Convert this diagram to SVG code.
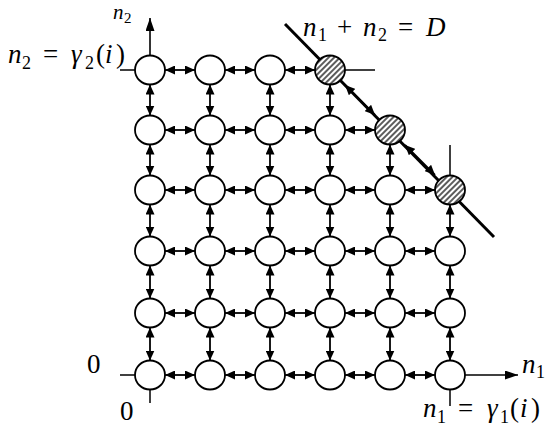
<svg xmlns="http://www.w3.org/2000/svg" width="549" height="432" viewBox="0 0 549 432">
<style>
.n{fill:#fff;stroke:#000;stroke-width:1.8}
.h{fill:url(#hatch);stroke:#000;stroke-width:1.8}
.a{stroke:#000;stroke-width:1.8;fill:none;marker-start:url(#ah);marker-end:url(#ah)}
.s{stroke:#000;stroke-width:1.5;fill:none}
.ax{stroke:#000;stroke-width:1.6;fill:none;marker-end:url(#big)}
text{font-family:"Liberation Serif","Times New Roman",serif;font-size:27px;fill:#000}
.it{font-style:italic}
.sb{font-size:18px}
.sm{font-size:21px}
.sm2{font-size:15px}
</style>
<defs>
<pattern id="hatch" patternUnits="userSpaceOnUse" width="4" height="4" patternTransform="rotate(45)">
<rect width="4" height="4" fill="#fff"/>
<line x1="1" y1="0" x2="1" y2="4" stroke="#333" stroke-width="1.6"/>
</pattern>
<marker id="ah" viewBox="0 0 10 10" refX="10" refY="5" markerWidth="10" markerHeight="9" markerUnits="userSpaceOnUse" orient="auto-start-reverse" preserveAspectRatio="none">
<path d="M0,0 L10,5 L0,10 z" fill="#000"/>
</marker>
<marker id="big" viewBox="0 0 10 10" refX="10" refY="5" markerWidth="13" markerHeight="9" markerUnits="userSpaceOnUse" orient="auto" preserveAspectRatio="none">
<path d="M0,0 L10,5 L0,10 z" fill="#000"/>
</marker>
</defs>

<g id="connectors">
<line x1="285" y1="24" x2="494" y2="237" stroke="#000" stroke-width="3"/>
<line class="ax" x1="150" y1="55" x2="150" y2="18"/>
<line class="ax" x1="465" y1="375" x2="518" y2="375"/>
<line class="s" x1="120" y1="70" x2="135" y2="70"/>
<line class="s" x1="120" y1="375" x2="135" y2="375"/>
<line class="s" x1="150" y1="390" x2="150" y2="403"/>
<line class="s" x1="345" y1="70" x2="375" y2="70"/>
<line class="s" x1="450" y1="145" x2="450" y2="175.5"/>
<line class="s" x1="450" y1="390" x2="450" y2="406"/>
<line class="a" x1="345" y1="85" x2="375" y2="115"/>
<line class="a" x1="405" y1="145" x2="435" y2="175"/>
<line class="a" x1="165" y1="70" x2="195" y2="70"/>
<line class="a" x1="225" y1="70" x2="255" y2="70"/>
<line class="a" x1="285" y1="70" x2="315" y2="70"/>
<line class="a" x1="165" y1="130" x2="195" y2="130"/>
<line class="a" x1="225" y1="130" x2="255" y2="130"/>
<line class="a" x1="285" y1="130" x2="315" y2="130"/>
<line class="a" x1="345" y1="130" x2="375" y2="130"/>
<line class="a" x1="165" y1="190" x2="195" y2="190"/>
<line class="a" x1="225" y1="190" x2="255" y2="190"/>
<line class="a" x1="285" y1="190" x2="315" y2="190"/>
<line class="a" x1="345" y1="190" x2="375" y2="190"/>
<line class="a" x1="405" y1="190" x2="435" y2="190"/>
<line class="a" x1="165" y1="251" x2="195" y2="251"/>
<line class="a" x1="225" y1="251" x2="255" y2="251"/>
<line class="a" x1="285" y1="251" x2="315" y2="251"/>
<line class="a" x1="345" y1="251" x2="375" y2="251"/>
<line class="a" x1="405" y1="251" x2="435" y2="251"/>
<line class="a" x1="165" y1="313" x2="195" y2="313"/>
<line class="a" x1="225" y1="313" x2="255" y2="313"/>
<line class="a" x1="285" y1="313" x2="315" y2="313"/>
<line class="a" x1="345" y1="313" x2="375" y2="313"/>
<line class="a" x1="405" y1="313" x2="435" y2="313"/>
<line class="a" x1="165" y1="375" x2="195" y2="375"/>
<line class="a" x1="225" y1="375" x2="255" y2="375"/>
<line class="a" x1="285" y1="375" x2="315" y2="375"/>
<line class="a" x1="345" y1="375" x2="375" y2="375"/>
<line class="a" x1="405" y1="375" x2="435" y2="375"/>
<line class="a" x1="150" y1="84.5" x2="150" y2="115.5"/>
<line class="a" x1="150" y1="144.5" x2="150" y2="175.5"/>
<line class="a" x1="150" y1="204.5" x2="150" y2="236.5"/>
<line class="a" x1="150" y1="265.5" x2="150" y2="298.5"/>
<line class="a" x1="150" y1="327.5" x2="150" y2="360.5"/>
<line class="a" x1="210" y1="84.5" x2="210" y2="115.5"/>
<line class="a" x1="210" y1="144.5" x2="210" y2="175.5"/>
<line class="a" x1="210" y1="204.5" x2="210" y2="236.5"/>
<line class="a" x1="210" y1="265.5" x2="210" y2="298.5"/>
<line class="a" x1="210" y1="327.5" x2="210" y2="360.5"/>
<line class="a" x1="270" y1="84.5" x2="270" y2="115.5"/>
<line class="a" x1="270" y1="144.5" x2="270" y2="175.5"/>
<line class="a" x1="270" y1="204.5" x2="270" y2="236.5"/>
<line class="a" x1="270" y1="265.5" x2="270" y2="298.5"/>
<line class="a" x1="270" y1="327.5" x2="270" y2="360.5"/>
<line class="a" x1="330" y1="84.5" x2="330" y2="115.5"/>
<line class="a" x1="330" y1="144.5" x2="330" y2="175.5"/>
<line class="a" x1="330" y1="204.5" x2="330" y2="236.5"/>
<line class="a" x1="330" y1="265.5" x2="330" y2="298.5"/>
<line class="a" x1="330" y1="327.5" x2="330" y2="360.5"/>
<line class="a" x1="390" y1="144.5" x2="390" y2="175.5"/>
<line class="a" x1="390" y1="204.5" x2="390" y2="236.5"/>
<line class="a" x1="390" y1="265.5" x2="390" y2="298.5"/>
<line class="a" x1="390" y1="327.5" x2="390" y2="360.5"/>
<line class="a" x1="450" y1="204.5" x2="450" y2="236.5"/>
<line class="a" x1="450" y1="265.5" x2="450" y2="298.5"/>
<line class="a" x1="450" y1="327.5" x2="450" y2="360.5"/>
</g>

<g id="n0_0"><ellipse class="n" cx="150" cy="70" rx="15" ry="14.5"/></g>
<g id="n1_0"><ellipse class="n" cx="210" cy="70" rx="15" ry="14.5"/></g>
<g id="n2_0"><ellipse class="n" cx="270" cy="70" rx="15" ry="14.5"/></g>
<g id="n3_0"><ellipse class="h" cx="330" cy="70" rx="15" ry="14.5"/></g>
<g id="n0_1"><ellipse class="n" cx="150" cy="130" rx="15" ry="14.5"/></g>
<g id="n1_1"><ellipse class="n" cx="210" cy="130" rx="15" ry="14.5"/></g>
<g id="n2_1"><ellipse class="n" cx="270" cy="130" rx="15" ry="14.5"/></g>
<g id="n3_1"><ellipse class="n" cx="330" cy="130" rx="15" ry="14.5"/></g>
<g id="n4_1"><ellipse class="h" cx="390" cy="130" rx="15" ry="14.5"/></g>
<g id="n0_2"><ellipse class="n" cx="150" cy="190" rx="15" ry="14.5"/></g>
<g id="n1_2"><ellipse class="n" cx="210" cy="190" rx="15" ry="14.5"/></g>
<g id="n2_2"><ellipse class="n" cx="270" cy="190" rx="15" ry="14.5"/></g>
<g id="n3_2"><ellipse class="n" cx="330" cy="190" rx="15" ry="14.5"/></g>
<g id="n4_2"><ellipse class="n" cx="390" cy="190" rx="15" ry="14.5"/></g>
<g id="n5_2"><ellipse class="h" cx="450" cy="190" rx="15" ry="14.5"/></g>
<g id="n0_3"><ellipse class="n" cx="150" cy="251" rx="15" ry="14.5"/></g>
<g id="n1_3"><ellipse class="n" cx="210" cy="251" rx="15" ry="14.5"/></g>
<g id="n2_3"><ellipse class="n" cx="270" cy="251" rx="15" ry="14.5"/></g>
<g id="n3_3"><ellipse class="n" cx="330" cy="251" rx="15" ry="14.5"/></g>
<g id="n4_3"><ellipse class="n" cx="390" cy="251" rx="15" ry="14.5"/></g>
<g id="n5_3"><ellipse class="n" cx="450" cy="251" rx="15" ry="14.5"/></g>
<g id="n0_4"><ellipse class="n" cx="150" cy="313" rx="15" ry="14.5"/></g>
<g id="n1_4"><ellipse class="n" cx="210" cy="313" rx="15" ry="14.5"/></g>
<g id="n2_4"><ellipse class="n" cx="270" cy="313" rx="15" ry="14.5"/></g>
<g id="n3_4"><ellipse class="n" cx="330" cy="313" rx="15" ry="14.5"/></g>
<g id="n4_4"><ellipse class="n" cx="390" cy="313" rx="15" ry="14.5"/></g>
<g id="n5_4"><ellipse class="n" cx="450" cy="313" rx="15" ry="14.5"/></g>
<g id="n0_5"><ellipse class="n" cx="150" cy="375" rx="15" ry="14.5"/></g>
<g id="n1_5"><ellipse class="n" cx="210" cy="375" rx="15" ry="14.5"/></g>
<g id="n2_5"><ellipse class="n" cx="270" cy="375" rx="15" ry="14.5"/></g>
<g id="n3_5"><ellipse class="n" cx="330" cy="375" rx="15" ry="14.5"/></g>
<g id="n4_5"><ellipse class="n" cx="390" cy="375" rx="15" ry="14.5"/></g>
<g id="n5_5"><ellipse class="n" cx="450" cy="375" rx="15" ry="14.5"/></g>

<g id="labels">
<text><tspan class="it sm" x="113" y="19">n</tspan><tspan class="sm2" x="124" y="23">2</tspan></text>
<text><tspan class="it" x="8" y="63">n</tspan><tspan class="sb" x="22" y="69">2</tspan><tspan x="43" y="63">=</tspan><tspan class="it" x="71" y="63">γ</tspan><tspan class="sb" x="85" y="69">2</tspan><tspan x="96" y="63">(</tspan><tspan class="it" x="105" y="63">i</tspan><tspan x="116" y="63">)</tspan></text>
<text><tspan class="it" x="303" y="36">n</tspan><tspan class="sb" x="318" y="41">1</tspan><tspan x="337" y="36">+</tspan><tspan class="it" x="363" y="36">n</tspan><tspan class="sb" x="378" y="41">2</tspan><tspan x="398" y="36">=</tspan><tspan class="it" x="426" y="36">D</tspan></text>
<text x="87" y="373">0</text>
<text x="120" y="420">0</text>
<text><tspan class="it" x="522" y="373">n</tspan><tspan class="sb" x="536" y="378">1</tspan></text>
<text><tspan class="it" x="423" y="417">n</tspan><tspan class="sb" x="437" y="423">1</tspan><tspan x="458" y="417">=</tspan><tspan class="it" x="487" y="417">γ</tspan><tspan class="sb" x="500" y="423">1</tspan><tspan x="510" y="417">(</tspan><tspan class="it" x="520" y="417">i</tspan><tspan x="531" y="417">)</tspan></text>
</g>
</svg>
